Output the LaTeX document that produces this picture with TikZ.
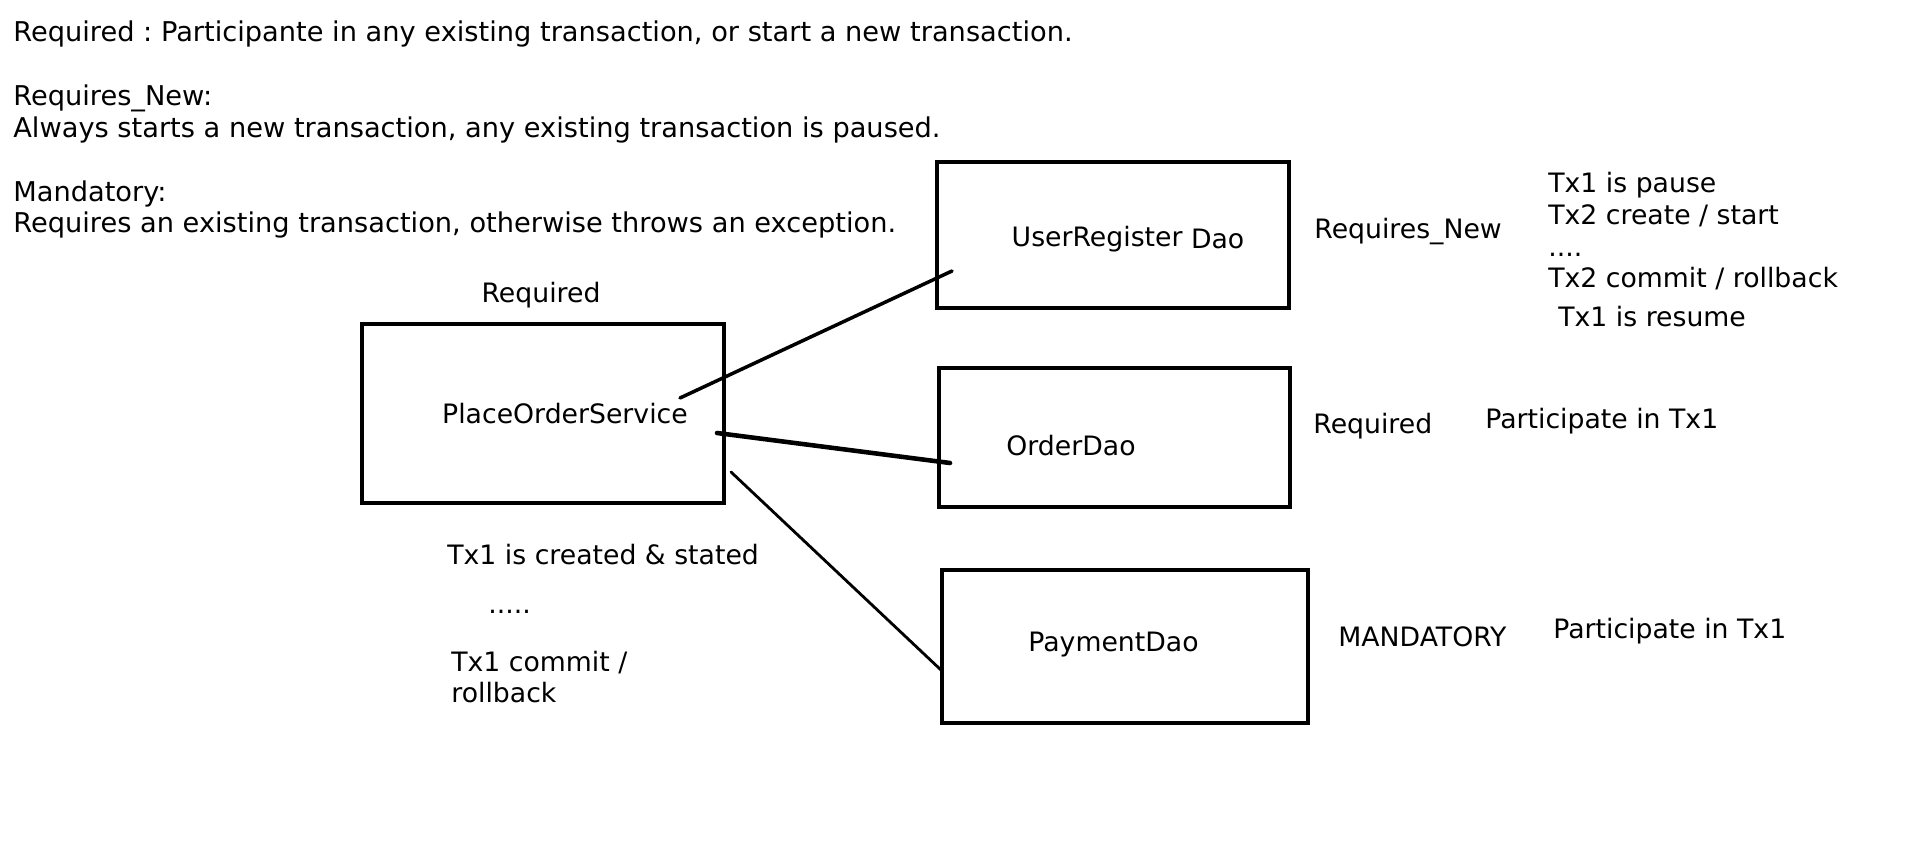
\documentclass[tikz,border=0pt]{standalone}
\usepackage{fontspec}
\setmainfont{DejaVu Sans}
\frenchspacing
\begin{document}
\begin{tikzpicture}[x=0.02cm, y=-0.02cm,
    every node/.style={font=\fontsize{15.2}{18.2}\selectfont, inner sep=0pt},
    box/.style={draw, line width=2.3pt},
    wire/.style={line width=#1, line cap=round}]
    \useasboundingbox (0,0) rectangle (1914,854);

    % propagation notes
    \node[anchor=base west, align=left, font=\fontsize{15.5}{18.2}\selectfont] (notes) at (13,233) {Required : Participante in any existing transaction, or start a new transaction.\\
        \mbox{}\\
        Requires\_New:\\
        Always starts a new transaction, any existing transaction is paused.\\
        \mbox{}\\
        Mandatory:\\
        Requires an existing transaction, otherwise throws an exception.};

    % service and daos
    \node[box, minimum width=7.24cm, minimum height=3.58cm] (svc) at (543,413.5) {};
    \node[box, minimum width=7.04cm, minimum height=2.92cm] (usr) at (1113,235) {};
    \node[box, minimum width=7.02cm, minimum height=2.78cm] (ord) at (1114.5,437.5) {};
    \node[box, minimum width=7.32cm, minimum height=3.06cm] (pay) at (1125,646.5) {};

    \node[anchor=base] (svctxt) at ([shift={(22,10.5)}]svc.center) {PlaceOrderService};
    \node[anchor=base] (usrtxt) at ([shift={(15,12)}]usr.center) {UserRegister \raisebox{-1pt}{Dao}};
    \node[anchor=base] (ordtxt) at ([shift={(-43.5,18.5)}]ord.center) {OrderDao};
    \node[anchor=base] (paytxt) at ([shift={(-11.5,4.5)}]pay.center) {PaymentDao};

    \draw[wire=2pt] ([shift={(137,-15.5)}]svc.center) -- ([shift={(-161,36)}]usr.center);
    \draw[wire=2.6pt] ([shift={(174,19.5)}]svc.center) -- ([shift={(-164.5,25.5)}]ord.center);
    \draw[wire=1.6pt] ([shift={(188,58.5)}]svc.center) -- ([shift={(-184,23.5)}]pay.center);

    % service side
    \node[anchor=base] (svcprop) at (541,303) {Required};
    \node[anchor=base west] (tx1start) at (447,565) {Tx1 is created \& stated};
    \node[anchor=base west] (tx1dots) at (488,614) {.....};
    \node[anchor=base west, align=left] (tx1end) at (451,703) {Tx1 commit /\\rollback};

    % dao side
    \node[anchor=base west] (usrprop) at (1314,239) {Requires\_New};
    \node[anchor=base west, align=left] (usrsteps) at (1548,288) {Tx1 is pause\\Tx2 create / start\\....\\Tx2 commit / rollback};
    \node[anchor=base west] (usrresume) at (1558,327) {Tx1 is resume};
    \node[anchor=base west] (ordprop) at (1313,434) {Required};
    \node[anchor=base west] (ordnote) at (1485,429) {Participate in Tx1};
    \node[anchor=base west] (payprop) at (1338,646) {MANDATORY};
    \node[anchor=base west] (paynote) at (1553,639) {Participate in Tx1};
\end{tikzpicture}
\end{document}
